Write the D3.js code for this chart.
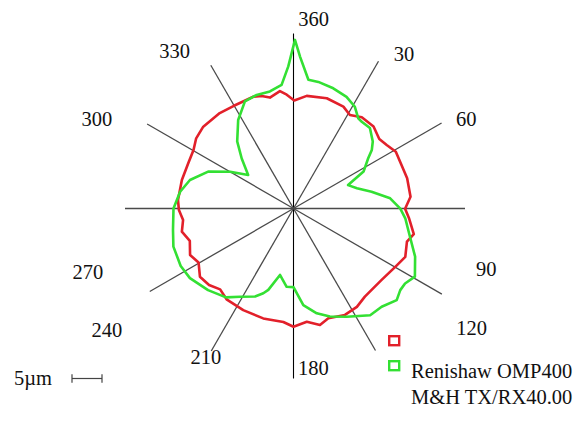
<!DOCTYPE html>
<html>
<head>
<meta charset="utf-8">
<script src="https://cdn.jsdelivr.net/npm/d3@7"></script>
<style>
  html, body { margin: 0; padding: 0; background: #fff; }
  svg { display: block; }
  text { font-family: "Liberation Serif", "Times New Roman", serif; fill: #111; }
</style>
</head>
<body>
<svg id="chart" width="581" height="436"></svg>
<script>
// Roundness traces: angle in degrees (clockwise from 360 at top), radius in µm.
const redAngles = [0.4, 6.7, 16.8, 26.1, 31.1, 36.8, 44.3, 51.0, 55.7, 61.0, 68.1, 75.1, 84.3, 90.1,
  94.7, 102.0, 106.3, 113.4, 119.3, 129.0, 141.0, 147.2, 154.2, 162.4, 167.2, 173.3, 180.0,
  185.1, 195.4, 206.3, 216.4, 222.2, 227.8, 233.9, 240.4, 245.8, 252.7, 258.3, 264.1, 269.2,
  274.2, 277.6, 284.3, 293.3, 300.3, 305.8, 312.2, 322.3, 329.6, 340.2, 344.2, 348.0, 353.4, 356.6];
const redValues = [18.0, 18.9, 19.2, 18.9, 18.2, 19.0, 19.1, 18.4, 18.8, 19.5, 19.4, 19.6, 19.6, 18.6,
  19.3, 20.5, 19.7, 20.3, 19.6, 18.9, 18.9, 19.5, 19.7, 19.2, 19.9, 19.0, 19.7,
  19.0, 19.0, 18.9, 18.8, 18.2, 19.0, 19.3, 18.2, 18.9, 18.1, 19.0, 18.5, 19.1,
  19.3, 19.2, 19.2, 19.1, 19.3, 20.0, 20.3, 20.1, 19.8, 19.8, 19.5, 18.9, 19.7, 19.0];

const greenAngles = [0.5, 2.5, 6.6, 11.1, 18.3, 25.4, 31.1, 35.7, 38.2, 43.5, 49.8, 53.2, 56.1, 62.2,
  66.8, 72.3, 77.9, 84.0, 90.1, 95.0, 102.1, 111.6, 119.3, 123.9, 127.4, 131.6, 138.1, 144.3,
  153.8, 161.4, 167.5, 174.2, 180.0, 185.0, 191.5, 197.2, 199.6, 203.6, 211.2, 217.2, 226.3,
  236.1, 243.0, 252.4, 259.9, 270.0, 278.4, 285.4, 293.4, 300.1, 306.5, 314.0, 320.0, 328.0,
  335.6, 342.0, 348.6, 354.5, 357.9];
const greenValues = [28.1, 25.3, 21.6, 21.5, 21.1, 20.6, 19.8, 18.5, 18.4, 18.5, 17.3, 16.3, 15.0, 13.2,
  9.9, 11.1, 13.3, 16.2, 17.8, 18.7, 19.7, 21.8, 23.2, 22.4, 22.4, 23.0, 22.0, 21.9,
  20.1, 19.0, 17.9, 16.2, 13.1, 13.1, 11.3, 14.2, 15.0, 16.0, 17.2, 18.6, 19.7,
  20.8, 21.1, 21.0, 20.4, 20.0, 19.1, 17.9, 15.5, 12.2, 9.4, 12.0, 14.6, 17.4,
  19.6, 19.9, 19.9, 20.7, 23.7];

// Angle axis ticks
const tickAngles = [0, 30, 60, 90, 120, 150, 180, 210, 240, 270, 300, 330];
const tickLabels = ["360", "30", "60", "90", "120", "", "180", "210", "240", "270", "300", "330"];

// Legend entries and scale bar
const legendColors = ["#e2202a", "#33e033"];
const legendLines = [[], ["Renishaw OMP400", "M&H TX/RX40.00"]];
const scaleBarValue = 5; // µm

// ---- layout ----
const cx = 293.5, cy = 208.5;
const spokeLength = [175, 170, 171, 171.5, 171.3, 164, 170, 164.5, 166, 168.5, 169, 165.4];
// label anchor placement: [angle deg, distance px] from the centre
const labelPlace = [[6.3, 183.9], [36.8, 184.5], [64.4, 191.6], [109.2, 204.2], [125.4, 218.5], [150, 0],
  [173.2, 167.7], [209.4, 178.4], [235.4, 226.7], [251.1, 217.3], [292.8, 213.2], [321.6, 191.6]];

const svg = d3.select("#chart");
const r = d3.scaleLinear().domain([0, scaleBarValue]).range([0, 30]);
const rad = d => d * Math.PI / 180;

const g = svg.append("g").attr("transform", `translate(${cx},${cy})`);

// spokes
g.append("g").selectAll("line")
  .data(tickAngles)
  .join("line")
  .attr("x1", 0)
  .attr("y1", 0)
  .attr("x2", (d, i) => Math.sin(rad(d)) * spokeLength[i])
  .attr("y2", (d, i) => -Math.cos(rad(d)) * spokeLength[i])
  .attr("stroke", d => (d % 180 === 0) ? "#000" : "#4a4a4a")
  .attr("stroke-width", d => (d % 180 === 0) ? 1.1 : (d === 90 || d === 270 ? 1.6 : 1.3));

// tick labels
g.append("g").selectAll("text")
  .data(tickAngles.map((a, i) => ({ a, label: tickLabels[i], p: labelPlace[i] })).filter(d => d.label))
  .join("text")
  .attr("x", d => Math.sin(rad(d.p[0])) * d.p[1])
  .attr("y", d => -Math.cos(rad(d.p[0])) * d.p[1])
  .attr("text-anchor", "middle")
  .attr("font-size", 20.5)
  .text(d => d.label);

// traces
const radial = d3.lineRadial()
  .angle(d => rad(d[0]))
  .radius(d => r(d[1]))
  .curve(d3.curveLinearClosed);

const series = [
  { color: legendColors[0], pts: redAngles.map((a, i) => [a, redValues[i]]) },
  { color: legendColors[1], pts: greenAngles.map((a, i) => [a, greenValues[i]]) }
];

g.selectAll("path.trace")
  .data(series)
  .join("path")
  .attr("class", "trace")
  .attr("d", d => radial(d.pts))
  .attr("fill", "none")
  .attr("stroke", d => d.color)
  .attr("stroke-width", 2.6)
  .attr("stroke-linejoin", "round");

// legend
const legend = svg.append("g").attr("transform", "translate(388,335)");
legendColors.forEach((c, i) => {
  const row = legend.append("g").attr("transform", `translate(0,${i * 25})`);
  row.append("rect").attr("x", 1.2).attr("y", 1.2).attr("width", 10).attr("height", 9)
    .attr("fill", "none").attr("stroke", c).attr("stroke-width", 2.4);
  legendLines[i].forEach((t, j) => {
    row.append("text").attr("x", 23).attr("y", 17.5 + j * 26.5)
      .attr("font-size", 20.5).text(t);
  });
});

// scale bar
const sb = svg.append("g").attr("transform", "translate(72,378.5)");
const len = r(scaleBarValue);
sb.append("line").attr("x1", 0).attr("x2", len).attr("y1", 0).attr("y2", 0)
  .attr("stroke", "#444").attr("stroke-width", 1.2);
sb.selectAll("line.end").data([0, len]).join("line").attr("class", "end")
  .attr("x1", d => d).attr("x2", d => d).attr("y1", -4.3).attr("y2", 4.3)
  .attr("stroke", "#444").attr("stroke-width", 1.2);
svg.append("text").attr("x", 14).attr("y", 385).attr("font-size", 20.5).text(scaleBarValue + "\u00b5m");
</script>
</body>
</html>
